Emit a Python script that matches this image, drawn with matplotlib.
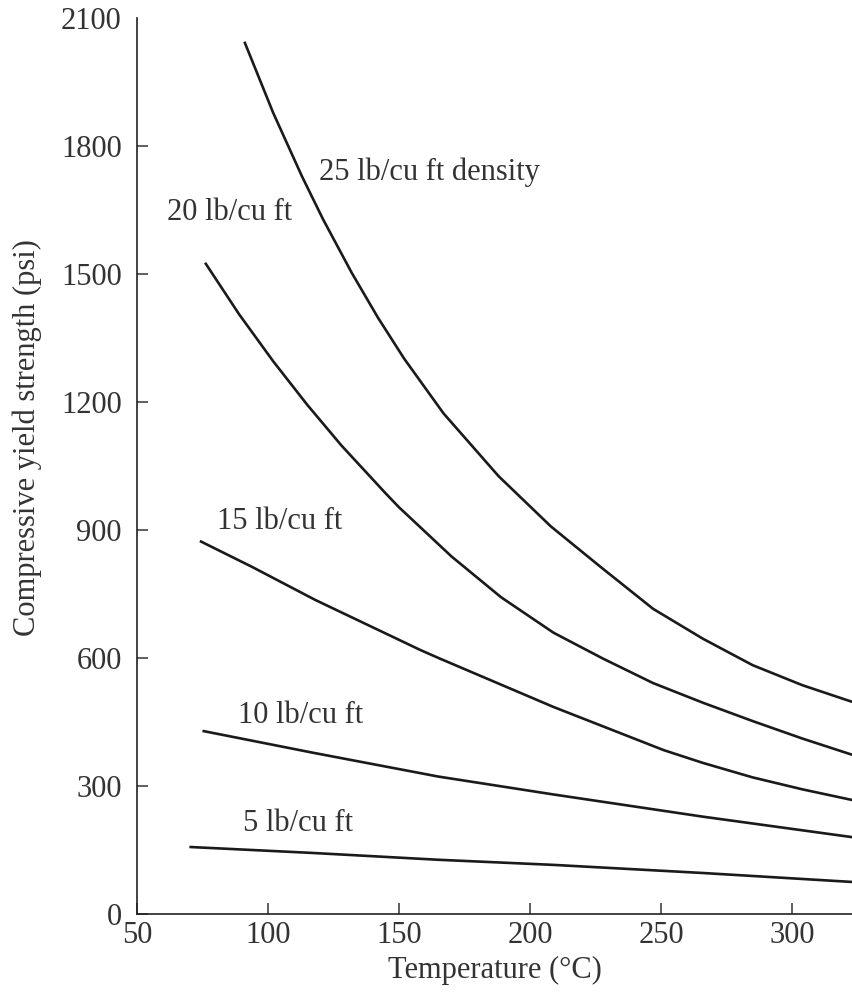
import matplotlib.pyplot as plt

plt.rcParams['font.family'] = ['Liberation Serif', 'DejaVu Serif']

# Curve readings: temperature (C) and compressive yield strength (psi)
temp_25 = [91, 102, 113, 121, 132, 142, 152, 167, 188, 208, 227, 247, 266, 285, 304, 323]
psi_25 = [2044, 1877, 1728, 1628, 1502, 1397, 1301, 1173, 1026, 908, 813, 715, 645, 583, 536, 497]

temp_20 = [76, 89, 102, 115, 128, 145, 150, 170, 189, 209, 228, 247, 266, 285, 304, 323]
psi_20 = [1526, 1405, 1295, 1193, 1098, 985, 953, 838, 742, 659, 598, 541, 495, 452, 411, 373]

temp_15 = [74, 94, 118, 158, 165, 209, 251, 266, 285, 304, 323]
psi_15 = [874, 813, 736, 619, 600, 485, 384, 354, 320, 292, 267]

temp_10 = [75, 117, 165, 209, 266, 323]
psi_10 = [429, 378, 322, 280, 228, 180]

temp_5 = [70, 117, 165, 209, 266, 323]
psi_5 = [157, 143, 127, 115, 96, 75]

labels = ["25 lb/cu ft density", "20 lb/cu ft", "15 lb/cu ft",
          "10 lb/cu ft", "5 lb/cu ft"]
label_x = [119.5, 61.5, 80.5, 88.5, 90.5]
label_y = [1739, 1643, 919, 466, 213]

x_ticks = [50, 100, 150, 200, 250, 300]
y_ticks = [0, 300, 600, 900, 1200, 1500, 1800, 2100]

FS = 22
INK = '#333333'

fig = plt.figure(figsize=(8.53, 9.98), dpi=100)
ax = fig.add_axes([0.1606, 0.0842, 0.8394, 0.898])

for t, p in [(temp_25, psi_25), (temp_20, psi_20), (temp_15, psi_15),
             (temp_10, psi_10), (temp_5, psi_5)]:
    ax.plot(t, p, color='#1a1a1a', lw=1.9, solid_capstyle='butt',
            solid_joinstyle='round')

for txt, tx, ty in zip(labels, label_x, label_y):
    ax.text(tx, ty, txt, fontsize=FS, color=INK, ha='left', va='center')

ax.set_xlim(50, 323.3)
ax.set_ylim(0, 2100)
ax.set_xticks(x_ticks)
ax.set_yticks(y_ticks)
ax.tick_params(direction='in', length=8, width=1.1, labelsize=FS, colors=INK)
ax.tick_params(axis='y', pad=11)
ax.tick_params(axis='x', pad=5)
# no tick mark at the top of the y axis
ax.yaxis.get_major_ticks()[-1].tick1line.set_visible(False)

for s in ['top', 'right']:
    ax.spines[s].set_visible(False)
for s in ['left', 'bottom']:
    ax.spines[s].set_linewidth(1.2)
    ax.spines[s].set_color('#222222')

ax.set_xlabel("Temperature (°C)", fontsize=FS, color=INK)
ax.set_ylabel("Compressive yield strength (psi)", fontsize=FS, color=INK)
ax.xaxis.set_label_coords(0.5, -0.047)
ax.yaxis.set_label_coords(-0.133, 0.532)

fig.savefig('out.png', dpi=100)
